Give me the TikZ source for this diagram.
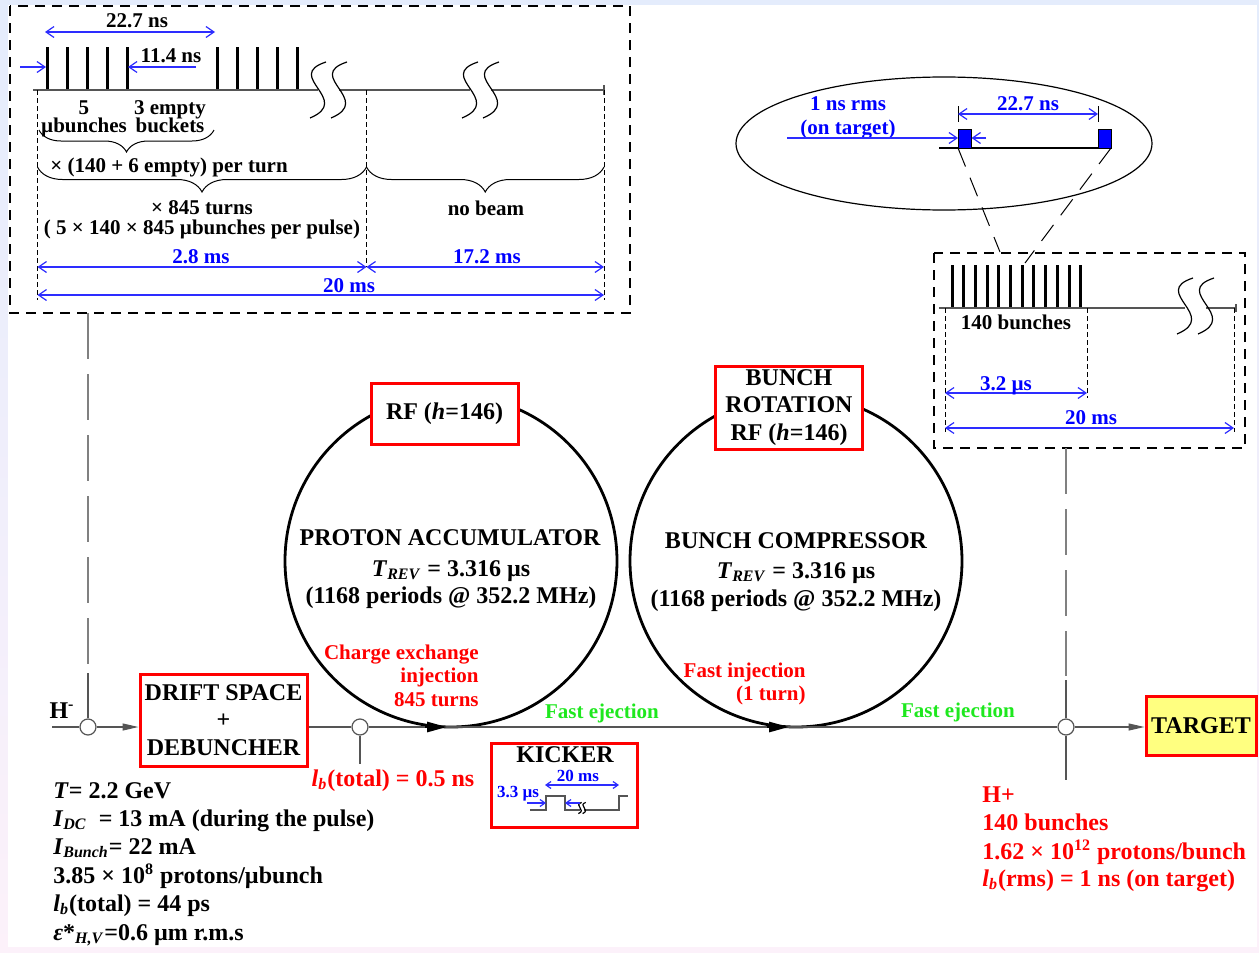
\documentclass[tikz,border=0pt]{standalone}
\usepackage{fontspec}
\setmainfont{Liberation Serif}
\usetikzlibrary{calc,arrows.meta,decorations.pathreplacing}

\definecolor{bgblue}{RGB}{228,236,252}
\definecolor{bgpink}{RGB}{252,241,250}
\definecolor{dimblue}{RGB}{45,45,255}
\definecolor{fastgreen}{RGB}{30,232,30}
\definecolor{tgtyellow}{RGB}{255,255,128}
\definecolor{beamgray}{RGB}{85,85,85}

% two S-shaped break marks at (#1,#2), size #3
\newcommand{\wavebrk}[3]{%
  \foreach \dx in {0,21}{
    \path[draw, line width=0.6pt, shift={(#1,#2)}, scale=#3]
      (\dx+8,-28) .. controls (\dx-35,-14) and (\dx+35,10) .. (\dx-8,28);
  }
}

\begin{document}
\begin{tikzpicture}[x=0.5pt, y=-0.5pt,
    bigtxt/.style = {font=\bfseries\fontsize{12}{13.75}\selectfont},
    smalltxt/.style = {font=\bfseries\fontsize{10.5}{11.75}\selectfont},
    kicktxt/.style = {font=\bfseries\fontsize{8.5}{10}\selectfont},
    redbox/.style = {draw=red, line width=1.5pt, fill=white, bigtxt, align=center, inner sep=0pt},
    junc/.style = {circle, draw=beamgray, fill=white, line width=0.6pt, minimum size=8pt, inner sep=0pt},
    beam/.style = {draw=beamgray, line width=0.6pt},
    beamtip/.style = {-{Triangle[length=8pt, width=3.5pt]}},
    ring/.style = {draw, line width=1.4pt},
    ringtip/.style = {draw, line width=1.4pt, -{Triangle[length=10pt, width=5pt]}},
    pulse/.style = {draw, line width=1.5pt},
    frame/.style = {draw, line width=0.6pt, dash pattern=on 5pt off 3.5pt},
    guide/.style = {draw, line width=0.4pt, dash pattern=on 2.5pt off 1.5pt},
    longdash/.style = {draw=gray, line width=0.6pt, dash pattern=on 23pt off 7.5pt},
    zoomline/.style = {draw, line width=0.5pt, dash pattern=on 10pt off 6pt},
    dimline/.style = {draw=dimblue, line width=0.6pt, {Straight Barb[length=4pt, width=5.5pt]}-{Straight Barb[length=4pt, width=5.5pt]}},
    dimarrow/.style = {draw=dimblue, line width=0.6pt, -{Straight Barb[length=4pt, width=5.5pt]}},
    brc/.style = {draw, line width=0.5pt, decorate, decoration={brace, amplitude=#1}},
]
    % background
    \useasboundingbox (0,0) rectangle (1259,953);
    \shade[top color=bgblue, bottom color=bgpink] (0,0) rectangle (1259,953);
    \fill[white] (8,5) rectangle (1257,947);

    % linac pulse structure
    \path[frame] (10,6) rectangle (630,313);
    \foreach \px in {47,67,87,107,127,217,237,257,277,297}
        \path[pulse] (\px,90) to (\px,47);
    \path[beam] (33,90) to (318,90);
    \path[beam] (339,90) to (470,90);
    \path[beam] (491,90) to (604,90);
    \path[beam] (604,85) to (604,95);
    \wavebrk{318}{90}{1}
    \wavebrk{470}{90}{1}
    \path[guide] (37.5,90) to (37.5,300);
    \path[guide] (366.5,90) to (366.5,267);
    \path[guide] (604,90) to (604,300);
    \path[dimline] (45,32) to (215,32);
    \node[smalltxt, anchor=base](tspan) at (137,27){22.7 ns};
    \path[dimarrow] (20,67) to (46,67);
    \path[dimarrow] (196,67) to (128,67);
    \node[smalltxt, anchor=base](tgap) at (171,62){11.4 ns};
    \node[smalltxt, anchor=base](tfive) at (84,114){5};
    \node[smalltxt, anchor=base](tmub) at (84,132){µbunches};
    \node[smalltxt, anchor=base](tempty) at (170,114){3 empty};
    \node[smalltxt, anchor=base](tbuck) at (170,132){buckets};
    \path[brc=11pt] (214,130) to (39,130);
    \node[smalltxt, anchor=base](tturn) at (169,172){× (140 + 6 empty) per turn};
    \path[brc=12.5pt] (366.5,167) to (37.5,167);
    \path[brc=12.5pt] (604,167) to (366.5,167);
    \node[smalltxt, anchor=base](t845) at (202,214){× 845 turns};
    \node[smalltxt, anchor=base](tpulse) at (202,234){( 5 × 140 × 845 µbunches per pulse)};
    \node[smalltxt, anchor=base](tnobeam) at (486,215){no beam};
    \path[dimline] (37.5,267) to (366.5,267);
    \path[dimline] (366.5,267) to (604,267);
    \path[dimline] (37.5,295) to (604,295);
    \node[smalltxt, text=blue, anchor=base](t28) at (201,263){2.8 ms};
    \node[smalltxt, text=blue, anchor=base](t172) at (487,263){17.2 ms};
    \node[smalltxt, text=blue, anchor=base](t20a) at (349,292){20 ms};

    % two bunches on target
    \path[draw, line width=0.6pt] (944,143.5) ellipse [x radius=104pt, y radius=33.25pt];
    \path[draw, line width=0.6pt] (939,148) to (1111,148);
    \path[draw, fill=blue, line width=0.4pt] (958,129) rectangle (971.5,148);
    \path[draw, fill=blue, line width=0.4pt] (1098,129) rectangle (1111,148);
    \path[draw, line width=0.4pt] (958,106) to (958,122);
    \path[draw, line width=0.4pt] (1098,106) to (1098,122);
    \path[dimline] (958,114) to (1098,114);
    \node[smalltxt, text=blue, anchor=base](tsep) at (1028,110){22.7 ns};
    \node[smalltxt, text=blue, anchor=base](trms) at (848,110){1 ns rms};
    \node[smalltxt, text=blue, anchor=base](tont) at (848,134){(on target)};
    \path[dimarrow] (787,138) to (958,138);
    \path[dimarrow] (986,138) to (971.5,138);
    \path[zoomline] (958,148) to (1000,252);
    \path[zoomline] (1111,148) to (1025,263);

    % compressed pulse structure
    \path[frame] (934,253) rectangle (1245,448);
    \foreach \i in {0,...,11}
        \path[pulse] ({952+11.7*\i},308) to ({952+11.7*\i},265);
    \path[beam] (939,308) to (1185,308);
    \path[beam] (1206,308) to (1236,308);
    \path[beam] (1236,304) to (1236,312);
    \wavebrk{1185}{306}{1}
    \path[guide] (945,308) to (945,432);
    \path[guide] (1087,308) to (1087,398);
    \path[guide] (1234,308) to (1234,432);
    \node[smalltxt, anchor=base](t140) at (1016,329){140 bunches};
    \path[dimline] (945,393) to (1087,393);
    \node[smalltxt, text=blue, anchor=base](t32) at (1006,390){3.2 µs};
    \path[dimline] (945,428) to (1234,428);
    \node[smalltxt, text=blue, anchor=base](t20b) at (1091,424){20 ms};

    % rings
    \path[ring] (451,561) circle [radius=83pt];
    \path[ring] (796,561) circle [radius=83pt];
    \node[redbox, minimum width=73.5pt, minimum height=30.5pt](rf1) at (444.5,413.5){RF (\textit{h}=146)};
    \node[redbox, minimum width=73.3pt, minimum height=41.5pt](rf2) at (789,407.5){BUNCH\\ROTATION\\RF (\textit{h}=146)};
    \node[bigtxt, anchor=base](pa1) at (450,545){PROTON ACCUMULATOR};
    \node[bigtxt, anchor=base](pa2) at (451,576){\textit{T}\textsubscript{\textit{REV}} = 3.316 µs};
    \node[bigtxt, anchor=base](pa3) at (451,603){(1168 periods @ 352.2 MHz)};
    \node[bigtxt, anchor=base](bc1) at (796,548){BUNCH COMPRESSOR};
    \node[bigtxt, anchor=base](bc2) at (796,578){\textit{T}\textsubscript{\textit{REV}} = 3.316 µs};
    \node[bigtxt, anchor=base](bc3) at (796,606){(1168 periods @ 352.2 MHz)};
    \node[smalltxt, text=red, anchor=base east, inner sep=0pt](cx1) at (479,659){Charge exchange};
    \node[smalltxt, text=red, anchor=base east, inner sep=0pt](cx2) at (479,682){injection};
    \node[smalltxt, text=red, anchor=base east, inner sep=0pt](cx3) at (479,706){845 turns};
    \node[smalltxt, text=red, anchor=base east, inner sep=0pt](fi1) at (806,677){Fast injection};
    \node[smalltxt, text=red, anchor=base east, inner sep=0pt](fi2) at (806,700){(1 turn)};
    \node[smalltxt, text=fastgreen, anchor=base](fe1) at (602,718){Fast ejection};
    \node[smalltxt, text=fastgreen, anchor=base](fe2) at (958,717){Fast ejection};

    % beam line
    \coordinate(Hin)at(52,727);
    \coordinate(PAin)at(447,727);
    \coordinate(BCin)at(789,727);
    \node[junc](J1) at (88,727){};
    \node[junc](J2) at (360,727){};
    \node[junc](J3) at (1066,727){};
    \node[redbox, minimum width=83.5pt, minimum height=46pt](drift) at (223.5,720){DRIFT SPACE\\+\\DEBUNCHER};
    \node[redbox, fill=tgtyellow, minimum width=55pt, minimum height=29.5pt](target) at (1201,725.5){TARGET};
    \node[bigtxt, anchor=base](hminus) at (62,718){H\textsuperscript{-}};
    \path[beam] (Hin) to (J1);
    \path[beam, beamtip] (J1) to (drift.west |- J1);
    \path[beam] (drift.east |- J2) to (J2);
    \path[beam] (J2) to (PAin);
    \path[beam] (PAin) to (BCin);
    \path[beam] (BCin) to (J3);
    \path[beam, beamtip] (J3) to (target.west |- J3);
    \path[ringtip] (425,727) to (PAin);
    \path[ringtip] (767,727) to (BCin);
    % links to the pulse pictures
    \path[longdash] (88,313) to (88,668);
    \path[beam] (J1.north) to (88,673);
    \path[beam] (J2.south) to (360,764);
    \path[longdash] (1066,448) to (1066,676);
    \path[beam] (J3.north) to (1066,680);
    \path[beam] (J3.south) to (1066,780);
    \node[bigtxt, text=red, anchor=base](lbext) at (393,786){\textit{l}\textsubscript{\textit{b}}(total) = 0.5 ns};

    % kicker
    \node[redbox, minimum width=73pt, minimum height=42pt](kicker) at (564,785){};
    \node[bigtxt, anchor=base](tkick) at (565,762){KICKER};
    \path[dimline, {Straight Barb[length=2.5pt, width=3.5pt]}-{Straight Barb[length=2.5pt, width=3.5pt]}] (545,785) to (619,785);
    \node[kicktxt, text=blue, anchor=base](tk20) at (578,781.5){20 ms};
    \node[kicktxt, text=blue, anchor=base](tk33) at (518,797.5){3.3 µs};
    \path[beam] (530,810) to (546,810) to (546,796) to (565,796) to (565,810) to (580,810);
    \path[beam] (584,810) to (619,810) to (619,796) to (628,796);
    \wavebrk{580}{808}{0.2}
    \path[dimarrow, -{Straight Barb[length=2.5pt, width=3.5pt]}] (527,803) to (546,803);
    \path[dimarrow, -{Straight Barb[length=2.5pt, width=3.5pt]}] (580,803) to (565,803);

    % beam parameters
    \node[bigtxt, anchor=base west, inner sep=0pt](info1) at (53,798){\textit{T}= 2.2 GeV};
    \node[bigtxt, anchor=base west, inner sep=0pt](info2) at (53,826){\textit{I}\textsubscript{\textit{DC}}~ = 13 mA (during the pulse)};
    \node[bigtxt, anchor=base west, inner sep=0pt](info3) at (53,854){\textit{I}\textsubscript{\textit{Bunch}}= 22 mA};
    \node[bigtxt, anchor=base west, inner sep=0pt](info4) at (53,883){3.85 × 10\textsuperscript{8} protons/µbunch};
    \node[bigtxt, anchor=base west, inner sep=0pt](info5) at (53,911){\textit{l}\textsubscript{\textit{b}}(total) = 44 ps};
    \node[bigtxt, anchor=base west, inner sep=0pt](info6) at (53,940){\textit{ε}*\textsubscript{\textit{H,V}}=0.6 µm r.m.s};
    \node[bigtxt, text=red, anchor=base west, inner sep=0pt](out1) at (982,802){H+};
    \node[bigtxt, text=red, anchor=base west, inner sep=0pt](out2) at (982,830){140 bunches};
    \node[bigtxt, text=red, anchor=base west, inner sep=0pt](out3) at (982,859){1.62 × 10\textsuperscript{12} protons/bunch};
    \node[bigtxt, text=red, anchor=base west, inner sep=0pt](out4) at (982,886){\textit{l}\textsubscript{\textit{b}}(rms) = 1 ns (on target)};
\end{tikzpicture}
\end{document}
